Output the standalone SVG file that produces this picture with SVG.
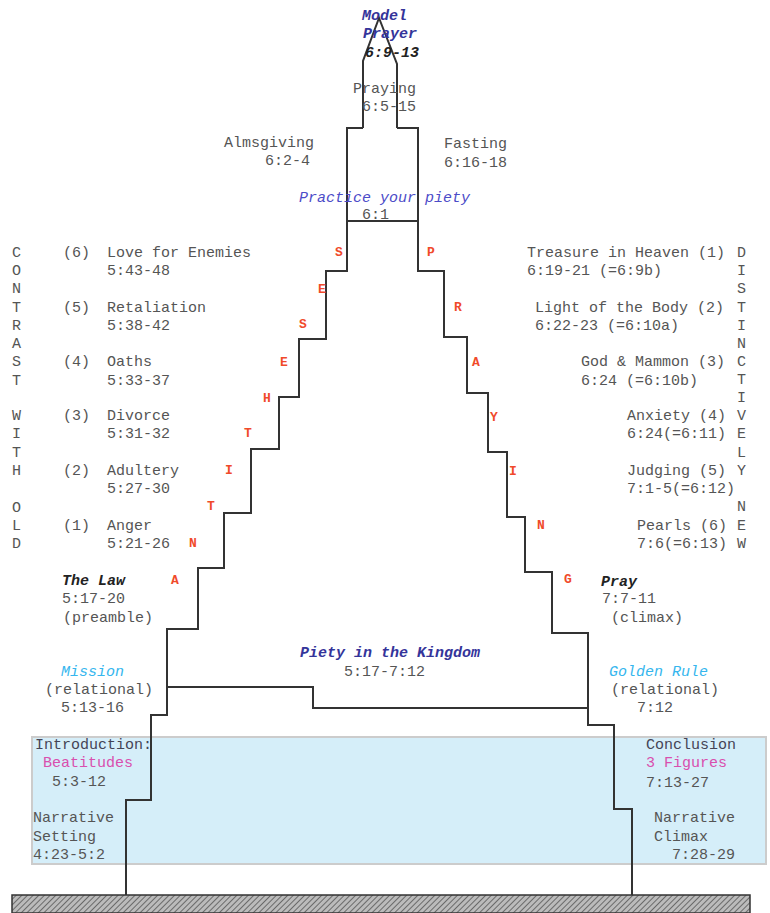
<svg xmlns="http://www.w3.org/2000/svg" width="770" height="913" viewBox="0 0 770 913">
<style>
text{font-family:"Liberation Mono","Courier New",monospace;font-size:15px;fill:#555}
.red{fill:#f04a2a;font-weight:bold;font-size:13px;text-anchor:middle}
.blue{fill:#34349a;font-weight:bold;font-style:italic}
.lblue{fill:#4c4cc8;font-style:italic}
.cyan{fill:#35b6ee;font-style:italic}
.bi{fill:#222;font-weight:bold;font-style:italic}
.pink{fill:#d94fae}
.dk{fill:#445}
.ln{fill:none;stroke:#333;stroke-width:2}
</style>
<defs>
<pattern id="hatch" width="4" height="4" patternUnits="userSpaceOnUse" patternTransform="rotate(45)">
<rect width="4" height="4" fill="#bbb"/>
<line x1="0" y1="0" x2="0" y2="4" stroke="#555" stroke-width="1.6"/>
</pattern>
</defs>
<rect x="0" y="0" width="770" height="913" fill="#fff"/>
<g id="intro-box"><rect x="32" y="737" width="734" height="127" fill="#d5eef9" stroke="#ccc" stroke-width="2"/></g>
<g id="ground"><rect x="12" y="895" width="738" height="18" fill="url(#hatch)" stroke="#333" stroke-width="1.5"/></g>
<g id="connectors">
<path class="ln" d="M363,128 L363,61 L379,18 L397,64 L397,128"/>
<path class="ln" d="M363,128 L347,128 L347,271 L326,271 L326,339 L299,339 L299,397 L279,397 L279,449 L251,449 L251,513 L224,513 L224,568 L198,568 L198,629 L167,629 L167,715 L151,715 L151,800 L126,800 L126,895"/>
<path class="ln" d="M397,128 L418,128 L418,271 L444,271 L444,337 L467,337 L467,393 L488,393 L488,452 L507,452 L507,517 L525,517 L525,572 L552,572 L552,633 L588,633 L588,725 L614,725 L614,809 L632,809 L632,895"/>
<path class="ln" d="M347,221 L418,221"/>
<path class="ln" d="M167,687 L313,687 L313,708 L588,708"/>
</g>
<g id="model-prayer"><text class="blue" x="362" y="20">Model</text><text class="blue" x="363" y="38">Prayer</text><text class="bi" x="365" y="57">6:9-13</text></g>
<g id="praying"><text x="353" y="93">Praying</text><text x="362" y="111">6:5-15</text></g>
<g id="almsgiving"><text x="224" y="147">Almsgiving</text><text x="265" y="165">6:2-4</text></g>
<g id="fasting"><text x="444" y="148">Fasting</text><text x="444" y="167">6:16-18</text></g>
<g id="practice"><text class="lblue" x="299" y="202">Practice your piety</text><text x="362" y="219">6:1</text></g>
<g id="contrast"><text x="12" y="257">C</text><text x="12" y="275">O</text><text x="12" y="293">N</text><text x="12" y="312">T</text><text x="12" y="330">R</text><text x="12" y="348">A</text><text x="12" y="366">S</text><text x="12" y="385">T</text><text x="12" y="420">W</text><text x="12" y="438">I</text><text x="12" y="457">T</text><text x="12" y="475">H</text><text x="12" y="512">O</text><text x="12" y="530">L</text><text x="12" y="548">D</text></g>
<g id="love"><text x="63" y="257">(6)</text><text x="107" y="257">Love for Enemies</text><text x="107" y="275">5:43-48</text></g>
<g id="retaliation"><text x="63" y="312">(5)</text><text x="107" y="312">Retaliation</text><text x="107" y="330">5:38-42</text></g>
<g id="oaths"><text x="63" y="366">(4)</text><text x="107" y="366">Oaths</text><text x="107" y="385">5:33-37</text></g>
<g id="divorce"><text x="63" y="420">(3)</text><text x="107" y="420">Divorce</text><text x="107" y="438">5:31-32</text></g>
<g id="adultery"><text x="63" y="475">(2)</text><text x="107" y="475">Adultery</text><text x="107" y="493">5:27-30</text></g>
<g id="anger"><text x="63" y="530">(1)</text><text x="107" y="530">Anger</text><text x="107" y="548">5:21-26</text></g>
<g id="antitheses"><text class="red" x="339" y="256">S</text><text class="red" x="322" y="293">E</text><text class="red" x="303" y="328">S</text><text class="red" x="284" y="366">E</text><text class="red" x="267" y="402">H</text><text class="red" x="248" y="437">T</text><text class="red" x="229" y="474">I</text><text class="red" x="211" y="510">T</text><text class="red" x="193" y="547">N</text><text class="red" x="175" y="584">A</text></g>
<g id="praying-word"><text class="red" x="431" y="256">P</text><text class="red" x="458" y="311">R</text><text class="red" x="476" y="366">A</text><text class="red" x="494" y="421">Y</text><text class="red" x="513" y="475">I</text><text class="red" x="541" y="529">N</text><text class="red" x="568" y="583">G</text></g>
<g id="distinctively"><text x="737" y="257">D</text><text x="737" y="275">I</text><text x="737" y="293">S</text><text x="737" y="312">T</text><text x="737" y="330">I</text><text x="737" y="348">N</text><text x="737" y="366">C</text><text x="737" y="384">T</text><text x="737" y="402">I</text><text x="737" y="420">V</text><text x="737" y="438">E</text><text x="737" y="457">L</text><text x="737" y="475">Y</text><text x="737" y="511">N</text><text x="737" y="530">E</text><text x="737" y="548">W</text></g>
<g id="treasure"><text x="527" y="257">Treasure in Heaven (1)</text><text x="527" y="275">6:19-21 (=6:9b)</text></g>
<g id="light"><text x="535" y="312">Light of the Body (2)</text><text x="535" y="330">6:22-23 (=6:10a)</text></g>
<g id="mammon"><text x="581" y="366">God &amp; Mammon (3)</text><text x="581" y="385">6:24 (=6:10b)</text></g>
<g id="anxiety"><text x="627" y="420">Anxiety (4)</text><text x="627" y="438">6:24(=6:11)</text></g>
<g id="judging"><text x="627" y="475">Judging (5)</text><text x="627" y="493">7:1-5(=6:12)</text></g>
<g id="pearls"><text x="637" y="530">Pearls (6)</text><text x="637" y="548">7:6(=6:13)</text></g>
<g id="law"><text class="bi" x="62" y="585">The Law</text><text x="62" y="603">5:17-20</text><text x="63" y="622">(preamble)</text></g>
<g id="pray"><text class="bi" x="601" y="586">Pray</text><text x="602" y="603">7:7-11</text><text x="611" y="622">(climax)</text></g>
<g id="piety-kingdom"><text class="blue" x="300" y="657">Piety in the Kingdom</text><text x="344" y="676">5:17-7:12</text></g>
<g id="mission"><text class="cyan" x="61" y="676">Mission</text><text x="45" y="694">(relational)</text><text x="61" y="712">5:13-16</text></g>
<g id="golden-rule"><text class="cyan" x="609" y="676">Golden Rule</text><text x="611" y="694">(relational)</text><text x="637" y="712">7:12</text></g>
<g id="introduction"><text class="dk" x="35" y="749">Introduction:</text><text class="pink" x="43" y="767">Beatitudes</text><text x="52" y="786">5:3-12</text></g>
<g id="narrative-setting"><text x="33" y="822">Narrative</text><text x="33" y="841">Setting</text><text x="33" y="859">4:23-5:2</text></g>
<g id="conclusion"><text class="dk" x="646" y="749">Conclusion</text><text class="pink" x="646" y="767">3 Figures</text><text x="646" y="787">7:13-27</text></g>
<g id="narrative-climax"><text x="654" y="822">Narrative</text><text x="654" y="841">Climax</text><text x="672" y="859">7:28-29</text></g>
</svg>
